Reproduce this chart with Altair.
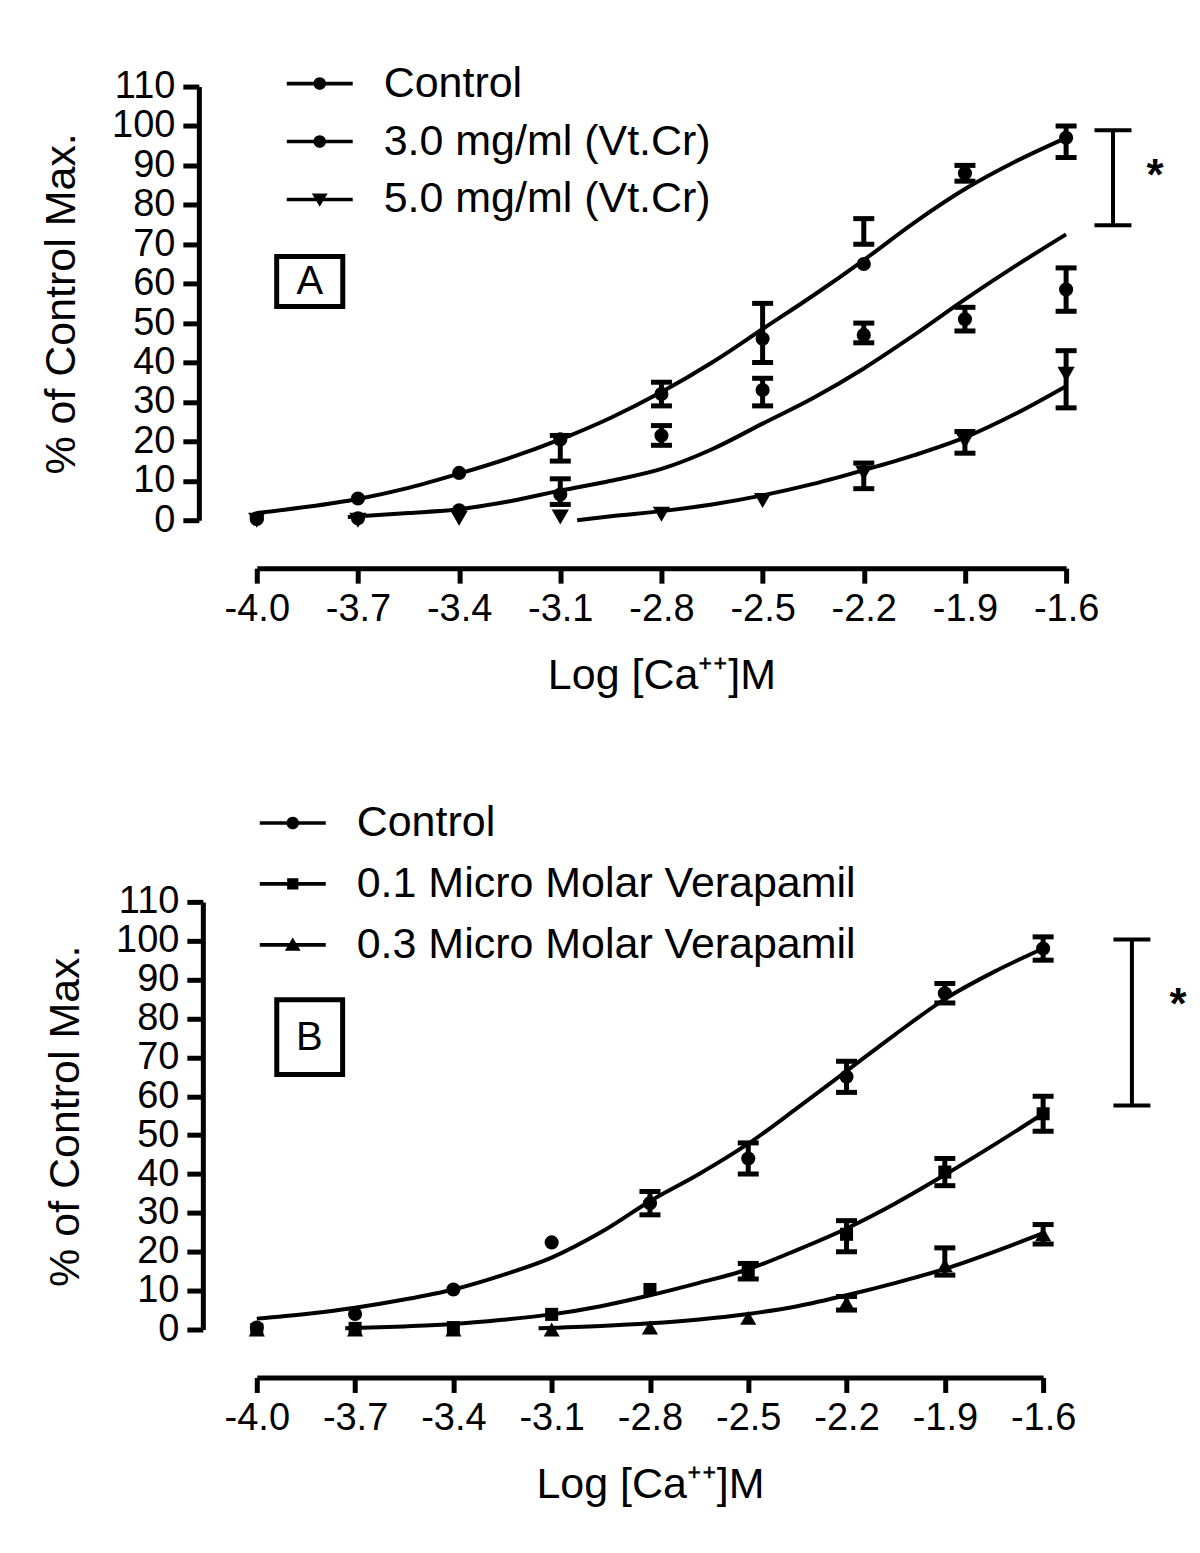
import altair as alt
import pandas as pd

FONT = "Liberation Sans"

# ---------------- shared x levels ----------------
X_LEVELS = [-4.0, -3.7, -3.4, -3.1, -2.8, -2.5, -2.2, -1.9, -1.6]
Y_TICKS = [0, 10, 20, 30, 40, 50, 60, 70, 80, 90, 100, 110]

# ---------------- Panel A data ----------------
A_SERIES = ["Control", "3.0 mg/ml (Vt.Cr)", "5.0 mg/ml (Vt.Cr)"]
A_MEAN_CONTROL = [0.5, 5.5, 12.0, 20.5, 32.0, 46.0, 65.0, 88.0, 97.0]
A_MEAN_3 = [0.3, 0.5, 2.5, 6.5, 21.5, 33.0, 47.0, 51.0, 58.5]
A_MEAN_5 = [0.0, 0.0, 0.5, 0.8, 1.5, 5.0, 12.0, 20.0, 37.0]
A_LO_CONTROL = [None, None, None, 15.0, 29.0, 40.0, 70.0, 86.0, 92.0]
A_HI_CONTROL = [None, None, None, 21.5, 35.0, 55.0, 76.5, 90.0, 100.0]
A_LO_3 = [None, None, None, 4.0, 19.0, 29.0, 45.0, 48.0, 53.0]
A_HI_3 = [None, None, None, 10.5, 24.0, 36.0, 50.0, 54.0, 64.0]
A_LO_5 = [None, None, None, None, None, None, 8.0, 17.0, 28.5]
A_HI_5 = [None, None, None, None, None, None, 14.5, 22.5, 43.0]

A_CURVE_X_CONTROL = [-4.0, -3.85, -3.7, -3.55, -3.4, -3.25, -3.1, -2.95, -2.8,
                     -2.65, -2.5, -2.35, -2.2, -2.05, -1.9, -1.75, -1.6]
A_CURVE_Y_CONTROL = [1.8, 3.4, 5.4, 8.2, 11.8, 15.8, 20.5, 26.0, 32.5,
                     40.0, 48.5, 57.0, 66.0, 75.5, 84.0, 91.0, 97.0]
A_CURVE_X_3 = [-3.73, -3.55, -3.4, -3.25, -3.1, -2.95, -2.8, -2.65, -2.5,
               -2.35, -2.2, -2.05, -1.9, -1.75, -1.6]
A_CURVE_Y_3 = [0.8, 1.8, 2.8, 4.8, 7.5, 10.0, 13.0, 18.0, 24.5,
               31.0, 38.5, 47.0, 56.0, 64.5, 72.5]
A_CURVE_X_5 = [-3.05, -2.95, -2.8, -2.65, -2.5, -2.35, -2.2, -2.05, -1.9, -1.75, -1.6]
A_CURVE_Y_5 = [0.0, 1.0, 2.3, 4.0, 6.3, 9.2, 12.7, 16.5, 21.0, 27.0, 34.0]

A_BRACKET_X = [-1.461]
A_BRACKET_LO = [74.8]
A_BRACKET_HI = [98.9]
A_STAR_X = [-1.336]
A_STAR_Y = [88.7]
A_BOX = {"x": [-3.941], "x2": [-3.745], "y": [54.2], "y2": [66.9]}
A_LETTER = {"x": [-3.843], "y": [60.5], "t": ["A"]}

# ---------------- Panel B data ----------------
B_SERIES = ["Control", "0.1 Micro Molar Verapamil", "0.3 Micro Molar Verapamil"]
B_MEAN_CONTROL = [0.5, 4.0, 10.3, 22.4, 32.5, 44.0, 65.0, 86.5, 98.0]
B_MEAN_01 = [0.0, 0.3, 0.5, 3.9, 10.3, 15.0, 24.5, 40.5, 55.5]
B_MEAN_03 = [0.0, 0.0, 0.0, 0.0, 0.5, 3.0, 6.8, 16.5, 24.5]
B_LO_CONTROL = [None, None, None, None, 29.5, 40.0, 61.0, 84.0, 95.0]
B_HI_CONTROL = [None, None, None, None, 35.5, 48.0, 69.0, 89.0, 101.0]
B_LO_01 = [None, None, None, None, None, 13.0, 20.0, 37.0, 51.0]
B_HI_01 = [None, None, None, None, None, 17.0, 28.0, 44.0, 60.0]
B_LO_03 = [None, None, None, None, None, None, 5.0, 14.0, 22.0]
B_HI_03 = [None, None, None, None, None, None, 8.5, 21.0, 27.0]

B_CURVE_X_CONTROL = [-4.0, -3.85, -3.7, -3.55, -3.4, -3.25, -3.1, -2.95, -2.8,
                     -2.65, -2.5, -2.35, -2.2, -2.05, -1.9, -1.75, -1.6]
B_CURVE_Y_CONTROL = [2.8, 4.0, 5.6, 7.7, 10.3, 14.0, 18.5, 25.0, 33.0,
                     40.0, 47.8, 57.0, 66.5, 76.0, 85.0, 92.0, 98.0]
B_CURVE_X_01 = [-3.73, -3.55, -3.4, -3.25, -3.1, -2.95, -2.8, -2.65, -2.5,
                -2.35, -2.2, -2.05, -1.9, -1.75, -1.6]
B_CURVE_Y_01 = [0.3, 0.8, 1.4, 2.5, 3.9, 6.0, 8.8, 12.0, 15.5,
                20.5, 26.0, 32.5, 39.8, 47.5, 55.5]
B_CURVE_X_03 = [-3.14, -2.95, -2.8, -2.65, -2.5, -2.35, -2.2, -2.05, -1.9, -1.75, -1.6]
B_CURVE_Y_03 = [0.3, 0.9, 1.6, 2.6, 4.0, 6.0, 8.8, 12.0, 15.6, 20.0, 24.8]

B_BRACKET_X = [-1.329]
B_BRACKET_LO = [57.6]
B_BRACKET_HI = [100.3]
B_STAR_X = [-1.188]
B_STAR_Y = [84.8]
B_BOX = {"x": [-3.939], "x2": [-3.738], "y": [65.6], "y2": [84.8]}
B_LETTER = {"x": [-3.84], "y": [75.0], "t": ["B"]}

# legend glyphs: a thin filled bar with the marker in the middle (unit square -1..1)
P_LINE = "M-1,-0.055H1V0.055H-1Z"
P_CIRCLE = P_LINE + "M-0.19,0A0.19,0.19 0 1,1 0.19,0A0.19,0.19 0 1,1 -0.19,0Z"
P_TRI_DOWN = P_LINE + "M-0.24,-0.18L0.24,-0.18L0,0.22Z"
P_SQUARE = P_LINE + "M-0.17,-0.17H0.17V0.17H-0.17Z"
P_TRI_UP = P_LINE + "M-0.24,0.18L0,-0.22L0.24,0.18Z"


def points_frame(series, means, los, his):
    rows = []
    for i, s in enumerate(series):
        for x, m, lo, hi in zip(X_LEVELS, means[i], los[i], his[i]):
            rows.append({"series": s, "x": x, "mean": m, "lo": lo, "hi": hi})
    return pd.DataFrame(rows)


def curve_frame(series, xs, ys):
    rows = []
    for s, cx, cy in zip(series, xs, ys):
        for a, b in zip(cx, cy):
            rows.append({"series": s, "cx": a, "cy": b})
    return pd.DataFrame(rows)


def panel(series, draw_order, pts, curves, shapes, paths, sizes, width, height,
          yoff, legend_x, legend_y, row_pad, bracket, star, box, letter):
    xscale = alt.Scale(domain=[-4.0, -1.6], nice=False, zero=False)
    yscale = alt.Scale(domain=[0, 110], nice=False, zero=False)
    xaxis = alt.Axis(values=X_LEVELS, format=".1f",
                     labelExpr="replace(datum.label, '\u2212', '-')",
                     title="Log [Ca\u207a\u207a]M", offset=48, tickSize=15,
                     labelPadding=7, titlePadding=26, labelFlush=False)
    yaxis = alt.Axis(values=Y_TICKS, title="% of Control Max.", offset=yoff,
                     tickSize=16, labelPadding=8, titlePadding=28)

    def X(field):
        return alt.X(f"{field}:Q", scale=xscale, axis=xaxis)

    def Y(field):
        return alt.Y(f"{field}:Q", scale=yscale, axis=yaxis)

    base_pts = alt.Chart(pts)
    curves_l = alt.Chart(curves).mark_line(
        color="black", strokeWidth=4, interpolate="monotone"
    ).encode(x=X("cx"), y=Y("cy"), detail="series:N")

    err = base_pts.transform_filter("isValid(datum.lo)")
    rules = err.mark_rule(color="black", strokeWidth=5, opacity=1).encode(
        x=X("x"), y=Y("lo"), y2="hi:Q")
    cap_lo = err.mark_tick(color="black", orient="horizontal", thickness=5,
                           size=21, opacity=1).encode(x=X("x"), y=Y("lo"))
    cap_hi = err.mark_tick(color="black", orient="horizontal", thickness=5,
                           size=21, opacity=1).encode(x=X("x"), y=Y("hi"))

    marker_layers = []
    for s in draw_order:
        i = series.index(s)
        marker_layers.append(
            base_pts.transform_filter(alt.datum.series == s).mark_point(
                filled=True, color="black", opacity=1, shape=shapes[i],
                size=sizes[i]).encode(x=X("x"), y=Y("mean"))
        )

    legend_l = base_pts.mark_point(filled=True, color="black",
                                   opacity=0, size=4356).encode(
        x=X("x"), y=Y("mean"),
        shape=alt.Shape(
            "series:N",
            scale=alt.Scale(domain=series, range=paths),
            sort=series,
            legend=alt.Legend(
                orient="none", legendX=legend_x, legendY=legend_y, title=None,
                labelFont=FONT, labelFontSize=43, labelColor="black",
                labelLimit=1000, labelOffset=30, symbolSize=4356,
                symbolFillColor="black", symbolOpacity=1, rowPadding=row_pad,
                padding=0,
            ),
        ),
    )

    bdf = pd.DataFrame({"bx": bracket[0], "blo": bracket[1], "bhi": bracket[2]})
    brule = alt.Chart(bdf).mark_rule(color="black", strokeWidth=4).encode(
        x=X("bx"), y=Y("blo"), y2="bhi:Q")
    bcap1 = alt.Chart(bdf).mark_tick(color="black", orient="horizontal", opacity=1,
                                     thickness=4, size=37).encode(x=X("bx"), y=Y("blo"))
    bcap2 = alt.Chart(bdf).mark_tick(color="black", orient="horizontal", opacity=1,
                                     thickness=4, size=37).encode(x=X("bx"), y=Y("bhi"))
    sdf = pd.DataFrame({"sx": star[0], "sy": star[1], "t": ["*"]})
    star_l = alt.Chart(sdf).mark_text(fontSize=44, font=FONT, fontWeight="bold",
                                      color="black", baseline="middle", dy=6).encode(
        x=X("sx"), y=Y("sy"), text="t:N")

    boxdf = pd.DataFrame(box)
    box_l = alt.Chart(boxdf).mark_rect(fill="white", stroke="black",
                                       strokeWidth=5).encode(
        x=X("x"), x2="x2:Q", y=Y("y"), y2="y2:Q")
    ldf = pd.DataFrame(letter)
    letter_l = alt.Chart(ldf).mark_text(fontSize=40, font=FONT, color="black",
                                        baseline="middle").encode(
        x=X("x"), y=Y("y"), text="t:N")

    return alt.layer(
        box_l, letter_l, curves_l, rules, cap_lo, cap_hi, *marker_layers, legend_l,
        brule, bcap1, bcap2, star_l,
    ).properties(width=width, height=height)


ptsA = points_frame(A_SERIES,
                    [A_MEAN_CONTROL, A_MEAN_3, A_MEAN_5],
                    [A_LO_CONTROL, A_LO_3, A_LO_5],
                    [A_HI_CONTROL, A_HI_3, A_HI_5])
curA = curve_frame(A_SERIES,
                   [A_CURVE_X_CONTROL, A_CURVE_X_3, A_CURVE_X_5],
                   [A_CURVE_Y_CONTROL, A_CURVE_Y_3, A_CURVE_Y_5])
ptsB = points_frame(B_SERIES,
                    [B_MEAN_CONTROL, B_MEAN_01, B_MEAN_03],
                    [B_LO_CONTROL, B_LO_01, B_LO_03],
                    [B_HI_CONTROL, B_HI_01, B_HI_03])
curB = curve_frame(B_SERIES,
                   [B_CURVE_X_CONTROL, B_CURVE_X_01, B_CURVE_X_03],
                   [B_CURVE_Y_CONTROL, B_CURVE_Y_01, B_CURVE_Y_03])

panelA = panel(A_SERIES, A_SERIES, ptsA, curA,
               ["circle", "circle", "triangle-down"],
               [P_CIRCLE, P_CIRCLE, P_TRI_DOWN],
               [200, 200, 300],
               810, 434, 58, 29, -37, 2,
               (A_BRACKET_X, A_BRACKET_LO, A_BRACKET_HI), (A_STAR_X, A_STAR_Y),
               A_BOX, A_LETTER)
panelB = panel(B_SERIES, [B_SERIES[2], B_SERIES[1], B_SERIES[0]], ptsB, curB,
               ["circle", "square", "triangle-up"],
               [P_CIRCLE, P_SQUARE, P_TRI_UP],
               [200, 170, 260],
               787, 428, 54, 2, -113, 5,
               (B_BRACKET_X, B_BRACKET_LO, B_BRACKET_HI), (B_STAR_X, B_STAR_Y),
               B_BOX, B_LETTER)

chart = alt.vconcat(panelA, panelB, spacing=92).resolve_scale(
    shape="independent"
).resolve_legend(shape="independent").properties(
    padding={"left": 32, "top": 41, "right": 5, "bottom": 5}
).configure(font=FONT).configure_view(strokeWidth=0).configure_axis(
    grid=False, domainWidth=5, tickWidth=5, domainColor="black", tickColor="black",
    labelColor="black", titleColor="black", labelFont=FONT, titleFont=FONT,
    labelFontSize=38, titleFontSize=43, titleFontWeight="normal",
)

chart.save("out.html", embed_options={"renderer": "svg", "actions": False})
